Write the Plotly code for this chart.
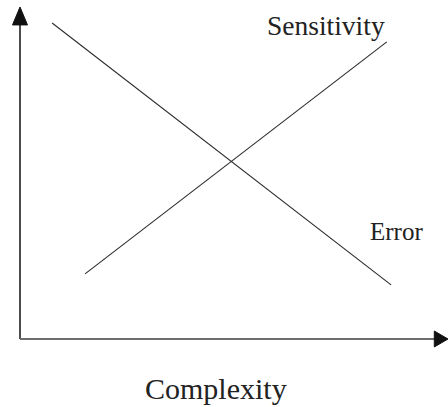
import plotly.graph_objects as go

# values (axis units 0-10)
error_x = [0.75, 8.67]
error_y = [9.52, 1.63]
sensitivity_x = [1.52, 8.57]
sensitivity_y = [1.96, 8.95]

line_color = "#2b2b2b"
font = "Liberation Serif, Times New Roman, serif"

fig = go.Figure()
fig.add_trace(go.Scatter(x=error_x, y=error_y, mode="lines", name="Error",
                         line=dict(color=line_color, width=1.1)))
fig.add_trace(go.Scatter(x=sensitivity_x, y=sensitivity_y, mode="lines", name="Sensitivity",
                         line=dict(color=line_color, width=1.1)))

# axes with arrow heads
fig.add_shape(type="line", xref="paper", yref="paper", x0=0, y0=0, x1=0, y1=0.95,
              line=dict(color="#231f20", width=1.6))
fig.add_shape(type="line", xref="paper", yref="paper", x0=0, y0=0, x1=0.975, y1=0,
              line=dict(color="#6e6e6e", width=2))
fig.add_shape(type="path", xref="paper", yref="paper",
              path="M -0.0175 0.946 L 0 1 L 0.0175 0.946 Z",
              fillcolor="#111111", line=dict(color="#111111", width=1))
fig.add_shape(type="path", xref="paper", yref="paper",
              path="M 0.968 0.024 L 1 0 L 0.968 -0.024 Z",
              fillcolor="#111111", line=dict(color="#111111", width=1))

fig.add_annotation(x=7.15, y=9.45, text="Sensitivity", showarrow=False,
                   font=dict(family=font, size=27.5, color="#222222"))
fig.add_annotation(x=8.8, y=3.25, text="Error", showarrow=False,
                   font=dict(family=font, size=25, color="#222222"))
fig.add_annotation(x=4.58, y=-0.205, yref="paper", yanchor="bottom", text="Complexity",
                   showarrow=False, font=dict(family=font, size=30, color="#222222"))

fig.update_layout(
    width=448, height=407,
    margin=dict(l=20, r=0, t=7, b=68),
    paper_bgcolor="white", plot_bgcolor="white",
    showlegend=False,
    xaxis=dict(range=[0, 10], visible=False),
    yaxis=dict(range=[0, 10], visible=False),
)

fig.write_html("out.html", config={"displayModeBar": False},
               post_script="document.body.style.margin='0';")
